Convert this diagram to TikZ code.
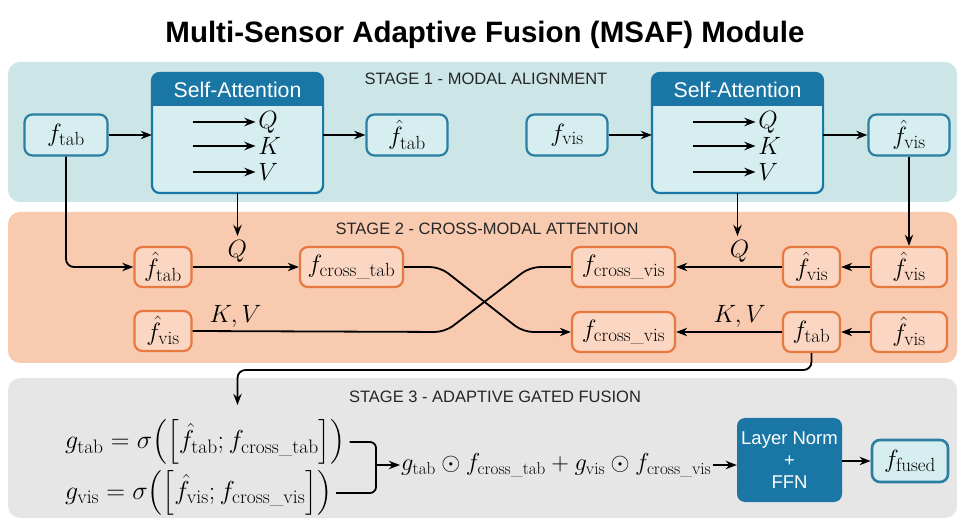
\RequirePackage{fix-cm}
\documentclass[tikz,border=0pt]{standalone}
\usepackage{amsmath}
\usepackage{fontspec}
\setsansfont{Liberation Sans}
\usetikzlibrary{arrows.meta,calc,positioning}
\tikzset {>=Stealth}
\DeclareMathSizes{25}{25}{19}{15}
\DeclareMathSizes{26}{26}{19.5}{15}

\definecolor{panelone}{HTML}{CCE6E8}
\definecolor{fillone}{HTML}{D6EEF0}
\definecolor{lineone}{HTML}{2A7FA3}
\definecolor{sablue}{HTML}{1A76A5}
\definecolor{paneltwo}{HTML}{F8CBB1}
\definecolor{filltwo}{HTML}{FBD7C3}
\definecolor{linetwo}{HTML}{E5793F}
\definecolor{panelthree}{HTML}{E6E6E6}

\tikzset{
  mathfont/.style={font=\fontsize{25}{28}\selectfont},
  tealbox/.style={draw=lineone, fill=fillone, line width=2.2pt, rounded corners=8pt,
    minimum height=41pt, inner sep=2pt, mathfont},
  orangebox/.style={draw=linetwo, fill=filltwo, line width=2.2pt, rounded corners=8pt,
    minimum height=40pt, inner sep=2pt, mathfont},
  sabox/.style={draw=sablue, line width=2.2pt, rounded corners=8pt,
    minimum width=169pt, minimum height=118pt},
  flow/.style={->, line width=1.8pt},
  stagelabel/.style={font=\sffamily\fontsize{16.5}{19}\selectfont, text=black!85}
}

\begin{document}
\begin{tikzpicture}[x=1pt,y=-1pt]
\useasboundingbox (0,0) rectangle (962,521);

% Title
\node[font=\sffamily\bfseries\fontsize{29.5}{33}\selectfont] (title) at (485,35)
  {Multi-Sensor Adaptive Fusion (MSAF) Module};

% Draw the three stage panels
\fill[panelone, rounded corners=12pt] (8,62) rectangle (957,202);
\fill[paneltwo, rounded corners=12pt] (8,212) rectangle (957,363);
\fill[panelthree, rounded corners=12pt] (8,378) rectangle (957,518);
\node[stagelabel] (st1) at (486,79) {STAGE 1 - MODAL ALIGNMENT};
\node[stagelabel] (st2) at (487,229) {STAGE 2 - CROSS-MODAL ATTENTION};
\node[stagelabel] (st3) at (495,397) {STAGE 3 - ADAPTIVE GATED FUSION};

% Stage 1: self-attention blocks
\node[sabox] (sa1) at (237.5,133) {};
\node[sabox] (sa2) at (737.5,133) {};
\foreach \sa in {sa1,sa2} {
  \begin{scope}
    \clip[rounded corners=8pt] (\sa.south west) rectangle (\sa.north east);
    \fill[fillone] (\sa.south west) rectangle (\sa.north east);
    \fill[sablue] (\sa.north west) rectangle ($(\sa.north east)+(0,33)$);
  \end{scope}
  \draw[sablue, line width=2.2pt, rounded corners=8pt] (\sa.south west) rectangle (\sa.north east);
  \node[font=\sffamily\fontsize{21.3}{24}\selectfont, text=white] (\sa-head)
    at ($(\sa.north)+(0,17)$) {Self-Attention};
  \foreach \lab/\dy in {Q/-11,K/13,V/39} {
    \coordinate (\sa-\lab-in) at ($(\sa.center)+(-45,\dy)$);
    \draw[flow] (\sa-\lab-in) -- ++(63,0) node[right, inner sep=2pt, mathfont] (\sa-\lab) {$\lab$};
  }
}

% Stage 1: feature nodes
\node[tealbox, minimum width=83pt] (ftab) at (66,135) {$f_{\text{tab}}$};
\node[tealbox, minimum width=81pt] (hftab) at (407,135) {$\hat{f}_{\text{tab}}$};
\node[tealbox, minimum width=81pt] (fvis) at (567,135) {$f_{\text{vis}}$};
\node[tealbox, minimum width=81pt] (hfvis) at (909,135) {$\hat{f}_{\text{vis}}$};

\draw[flow] (ftab.east) -- (ftab.east -| sa1.west);
\draw[flow] (sa1.east |- hftab.west) -- (hftab.west);
\draw[flow] (fvis.east) -- (fvis.east -| sa2.west);
\draw[flow] (sa2.east |- hfvis.west) -- (hfvis.west);

% Stage 2: cross-modal nodes
\node[orangebox, minimum width=57pt] (hftab2) at (163,267) {$\hat{f}_{\text{tab}}$};
\node[orangebox, minimum width=103pt] (fcrosstab) at (351.5,267) {$f_{\text{cross\_tab}}$};
\node[orangebox, minimum width=57pt] (hfvis2) at (163,331) {$\hat{f}_{\text{vis}}$};
\node[orangebox, minimum width=103pt] (fcrossvisa) at (623.5,267) {$f_{\text{cross\_vis}}$};
\node[orangebox, minimum width=103pt] (fcrossvisb) at (623.5,332) {$f_{\text{cross\_vis}}$};
\node[orangebox, minimum width=57pt] (hfvismid) at (811.5,267) {$\hat{f}_{\text{vis}}$};
\node[orangebox, minimum width=57pt] (ftab2) at (811.5,332) {$f_{\text{tab}}$};
\node[orangebox, minimum width=76pt] (hfvisr1) at (909,267) {$\hat{f}_{\text{vis}}$};
\node[orangebox, minimum width=76pt] (hfvisr2) at (909,332) {$\hat{f}_{\text{vis}}$};

% Feed stage 1 into stage 2
\draw[flow, rounded corners=8pt] (ftab.south) |- (hftab2.west);
\coordinate (qin1) at (237.5,236);
\coordinate (qin2) at (737.5,236);
\draw[flow] (sa1.south) -- (qin1);
\draw[flow] (sa2.south) -- (qin2);
\draw[flow] (hfvis.south) -- (hfvisr1.north);

% Left side
\draw[flow] (hftab2) -- node[above, pos=0.42, mathfont] (qlab1) {$Q$} (fcrosstab);
\coordinate (xa) at (445,332);
\coordinate (xb) at (530,267);
\coordinate (xc) at (440,267);
\coordinate (xd) at (523,332);
\draw[line width=1.8pt, rounded corners=10pt] (hfvis2.east)
  -- node[above, pos=0.17, mathfont] (kvlab1) {$K,V$} (xa) -- (xb) -- (fcrossvisa.west);
\draw[flow, rounded corners=10pt] (fcrosstab.east) -- (xc) -- (xd) -- (fcrossvisb.west);

% Right side
\draw[flow] (hfvisr1) -- (hfvismid);
\draw[flow] (hfvismid) -- node[above, pos=0.4, mathfont] (qlab2) {$Q$} (fcrossvisa);
\draw[flow] (hfvisr2) -- (ftab2);
\draw[flow] (ftab2) -- node[above, pos=0.4, mathfont] (kvlab2) {$K,V$} (fcrossvisb);

% Stage 3: gated fusion
\node[anchor=west, font=\fontsize{26}{29}\selectfont, inner sep=0pt] (eqtab) at (65,442)
  {$g_{\text{tab}} = \sigma\Bigl(\Bigl[\hat{f}_{\text{tab}}; f_{\text{cross\_tab}}\Bigr]\Bigr)$};
\node[anchor=west, font=\fontsize{26}{29}\selectfont, inner sep=0pt] (eqvis) at (65,493)
  {$g_{\text{vis}} = \sigma\Bigl(\Bigl[\hat{f}_{\text{vis}}; f_{\text{cross\_vis}}\Bigr]\Bigr)$};
\node[anchor=west, font=\fontsize{24.5}{27}\selectfont, inner sep=1pt] (sum) at (400,465)
  {$g_{\text{tab}} \odot f_{\text{cross\_tab}} + g_{\text{vis}} \odot f_{\text{cross\_vis}}$};
\node[fill=sablue, rounded corners=8pt, minimum width=105pt, minimum height=84pt,
  text=white, align=center, font=\sffamily\fontsize{18.5}{22}\selectfont] (ln) at (789.5,460)
  {Layer Norm\\+\\FFN};
\node[tealbox, line width=2.6pt, minimum width=76pt, minimum height=42pt] (ffused) at (910,461)
  {$f_{\text{fused}}$};

\coordinate (fb) at (237.5,370);
\coordinate (gin) at (237.5,405);
\draw[flow, rounded corners=8pt] (ftab2.south) |- (fb) -- (gin);

\coordinate (brk) at (376,465);
\draw[line width=1.8pt, rounded corners=6pt] ([xshift=4pt]eqtab.east) -| (brk) |- ([xshift=4pt]eqvis.east);
\draw[flow] (brk) -- (sum.west);
\draw[flow] (sum.east) -- (sum.east -| ln.west);
\draw[flow] (ln.east |- ffused.west) -- (ffused.west);
\end{tikzpicture}
\end{document}
